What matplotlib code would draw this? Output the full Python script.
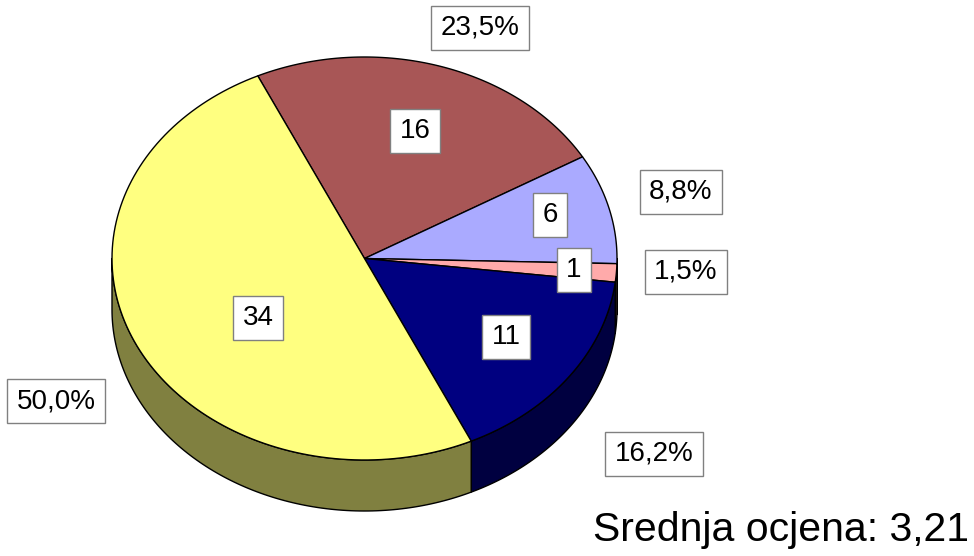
import numpy as np
import matplotlib.pyplot as plt
from matplotlib.patches import Polygon

plt.rcParams['font.family'] = ['Liberation Sans', 'DejaVu Sans']

# slices, clockwise from the top-left
values = [16, 6, 1, 11, 34]
top_colors = ['#A85656', '#AAAAFF', '#FFAAAA', '#000080', '#FFFF80']
side_colors = ['#542B2B', '#555580', '#805555', '#000040', '#808040']
subtitle = 'Srednja ocjena: 3,21'

# label placement (pixels)
inner_pos = [(415, 131), (550, 215), (574, 270), (506, 337), (258, 318)]
outer_pos = [(480, 28), (681, 192), (686, 272), (654, 454), (56, 401)]

# pie geometry (pixels)
cx, cy = 364.5, 258.5
a, b = 252.5, 201.5
depth = 51
start = 115.0


def pt(t, dz=0.0):
    r = np.radians(t)
    return cx + a * np.cos(r), cy - b * np.sin(r) + dz


def arc(t1, t2, dz=0.0, n=120):
    ts = np.linspace(t1, t2, n)
    return [pt(t, dz) for t in ts]


fig = plt.figure(figsize=(9.74, 5.56), dpi=100)
ax = fig.add_axes([0, 0, 1, 1])
ax.set_xlim(0, 974)
ax.set_ylim(556, 0)
ax.axis('off')

total = sum(values)
angles = []
t = start
for v in values:
    sweep = 360.0 * v / total
    angles.append((t, t - sweep))
    t -= sweep

# side walls (front half only)
for (t1, t2), col in zip(angles, side_colors):
    hi = min(t1, 0.0)
    lo = max(t2, -180.0)
    if hi <= lo:
        continue
    pts = arc(hi, lo) + arc(lo, hi, depth)
    ax.add_patch(Polygon(pts, closed=True, fc=col, ec='black', lw=1.0,
                         joinstyle='round'))

# top faces
for (t1, t2), col in zip(angles, top_colors):
    pts = [(cx, cy)] + arc(t1, t2)
    ax.add_patch(Polygon(pts, closed=True, fc=col, ec='black', lw=1.0,
                         joinstyle='round'))

box = dict(boxstyle='square,pad=0.33', fc='white', ec='#808080', lw=1.0)
for v, (x, y) in zip(values, inner_pos):
    ax.text(x, y, str(v), ha='center', va='center', fontsize=20, bbox=box)
for v, (x, y) in zip(values, outer_pos):
    s = f'{100.0 * v / total:.1f}%'.replace('.', ',')
    ax.text(x, y, s, ha='center', va='center', fontsize=20, bbox=box)

ax.text(969, 530, subtitle, ha='right', va='center', fontsize=29.5)

fig.savefig('out.png', dpi=100)
